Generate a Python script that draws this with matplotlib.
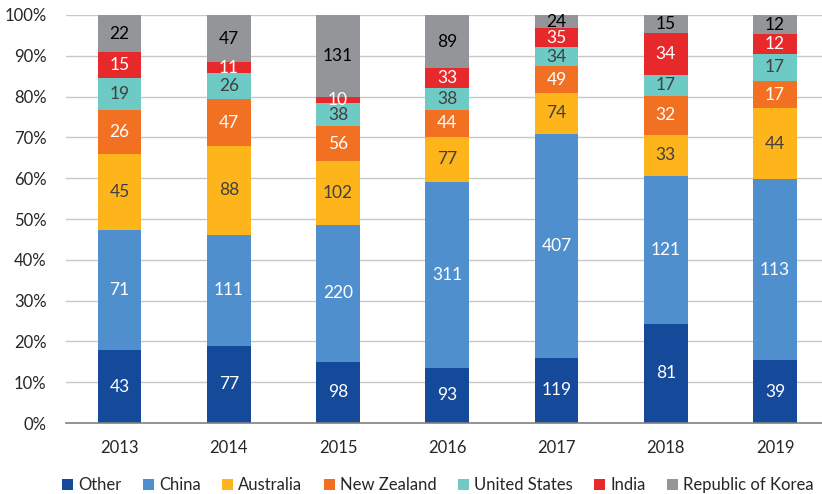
import numpy as np
import matplotlib.pyplot as plt

years = ["2013", "2014", "2015", "2016", "2017", "2018", "2019"]
series = ["Other", "China", "Australia", "New Zealand", "United States", "India", "Republic of Korea"]

other = [43, 77, 98, 93, 119, 81, 39]
china = [71, 111, 220, 311, 407, 121, 113]
australia = [45, 88, 102, 77, 74, 33, 44]
new_zealand = [26, 47, 56, 44, 49, 32, 17]
united_states = [19, 26, 38, 38, 34, 17, 17]
india = [15, 11, 10, 33, 35, 34, 12]
korea = [22, 47, 131, 89, 24, 15, 12]

colors = ["#15499A", "#4F8FCE", "#FDB51B", "#F27022", "#6DCAC5", "#E8292B", "#939598"]
label_colors = ["white", "white", "#404040", "white", "#404040", "white", "black"]

plt.rcParams["font.family"] = ["Lato", "DejaVu Sans"]

data = np.array([other, china, australia, new_zealand, united_states, india, korea], dtype=float)
shares = data / data.sum(axis=0) * 100

fig = plt.figure(figsize=(8.22, 4.94), dpi=100)
ax = fig.add_axes([66 / 822, 1 - 423 / 494, (822 - 66) / 822, (423 - 15) / 494])

x = np.arange(len(years))
bottom = np.zeros(len(years))
for i, name in enumerate(series):
    bars = ax.bar(x, shares[i], 0.40, bottom=bottom, color=colors[i], label=name, zorder=2)
    for j, b in enumerate(bars):
        ax.text(b.get_x() + b.get_width() / 2, bottom[j] + shares[i][j] / 2,
                f"{int(data[i][j])}", ha="center", va="center",
                color=label_colors[i], fontsize=12.5, zorder=3)
    bottom += shares[i]

ax.set_xlim(-0.49, 6.43)
ax.set_ylim(0, 100)
ax.set_yticks(np.arange(0, 101, 10))
ax.set_yticklabels([f"{v}%" for v in range(0, 101, 10)])
ax.set_xticks(x)
ax.set_xticklabels(years)
ax.tick_params(axis="both", length=0, labelsize=12, colors="#262626")
ax.tick_params(axis="x", pad=12)
ax.tick_params(axis="y", pad=14)
ax.yaxis.grid(True, color="#C8C8C8", linewidth=1, zorder=0)
for s in ["top", "right", "left"]:
    ax.spines[s].set_visible(False)
ax.spines["bottom"].set_color("#808080")
ax.spines["bottom"].set_linewidth(1.2)

fig.legend(*ax.get_legend_handles_labels(), loc="center", bbox_to_anchor=(0.533, 1 - 485 / 494),
           ncol=7, frameon=False, fontsize=12, handlelength=0.65, handleheight=0.65,
           handletextpad=0.3, columnspacing=1.3, labelcolor="#262626")

fig.savefig("out.png", dpi=100)
